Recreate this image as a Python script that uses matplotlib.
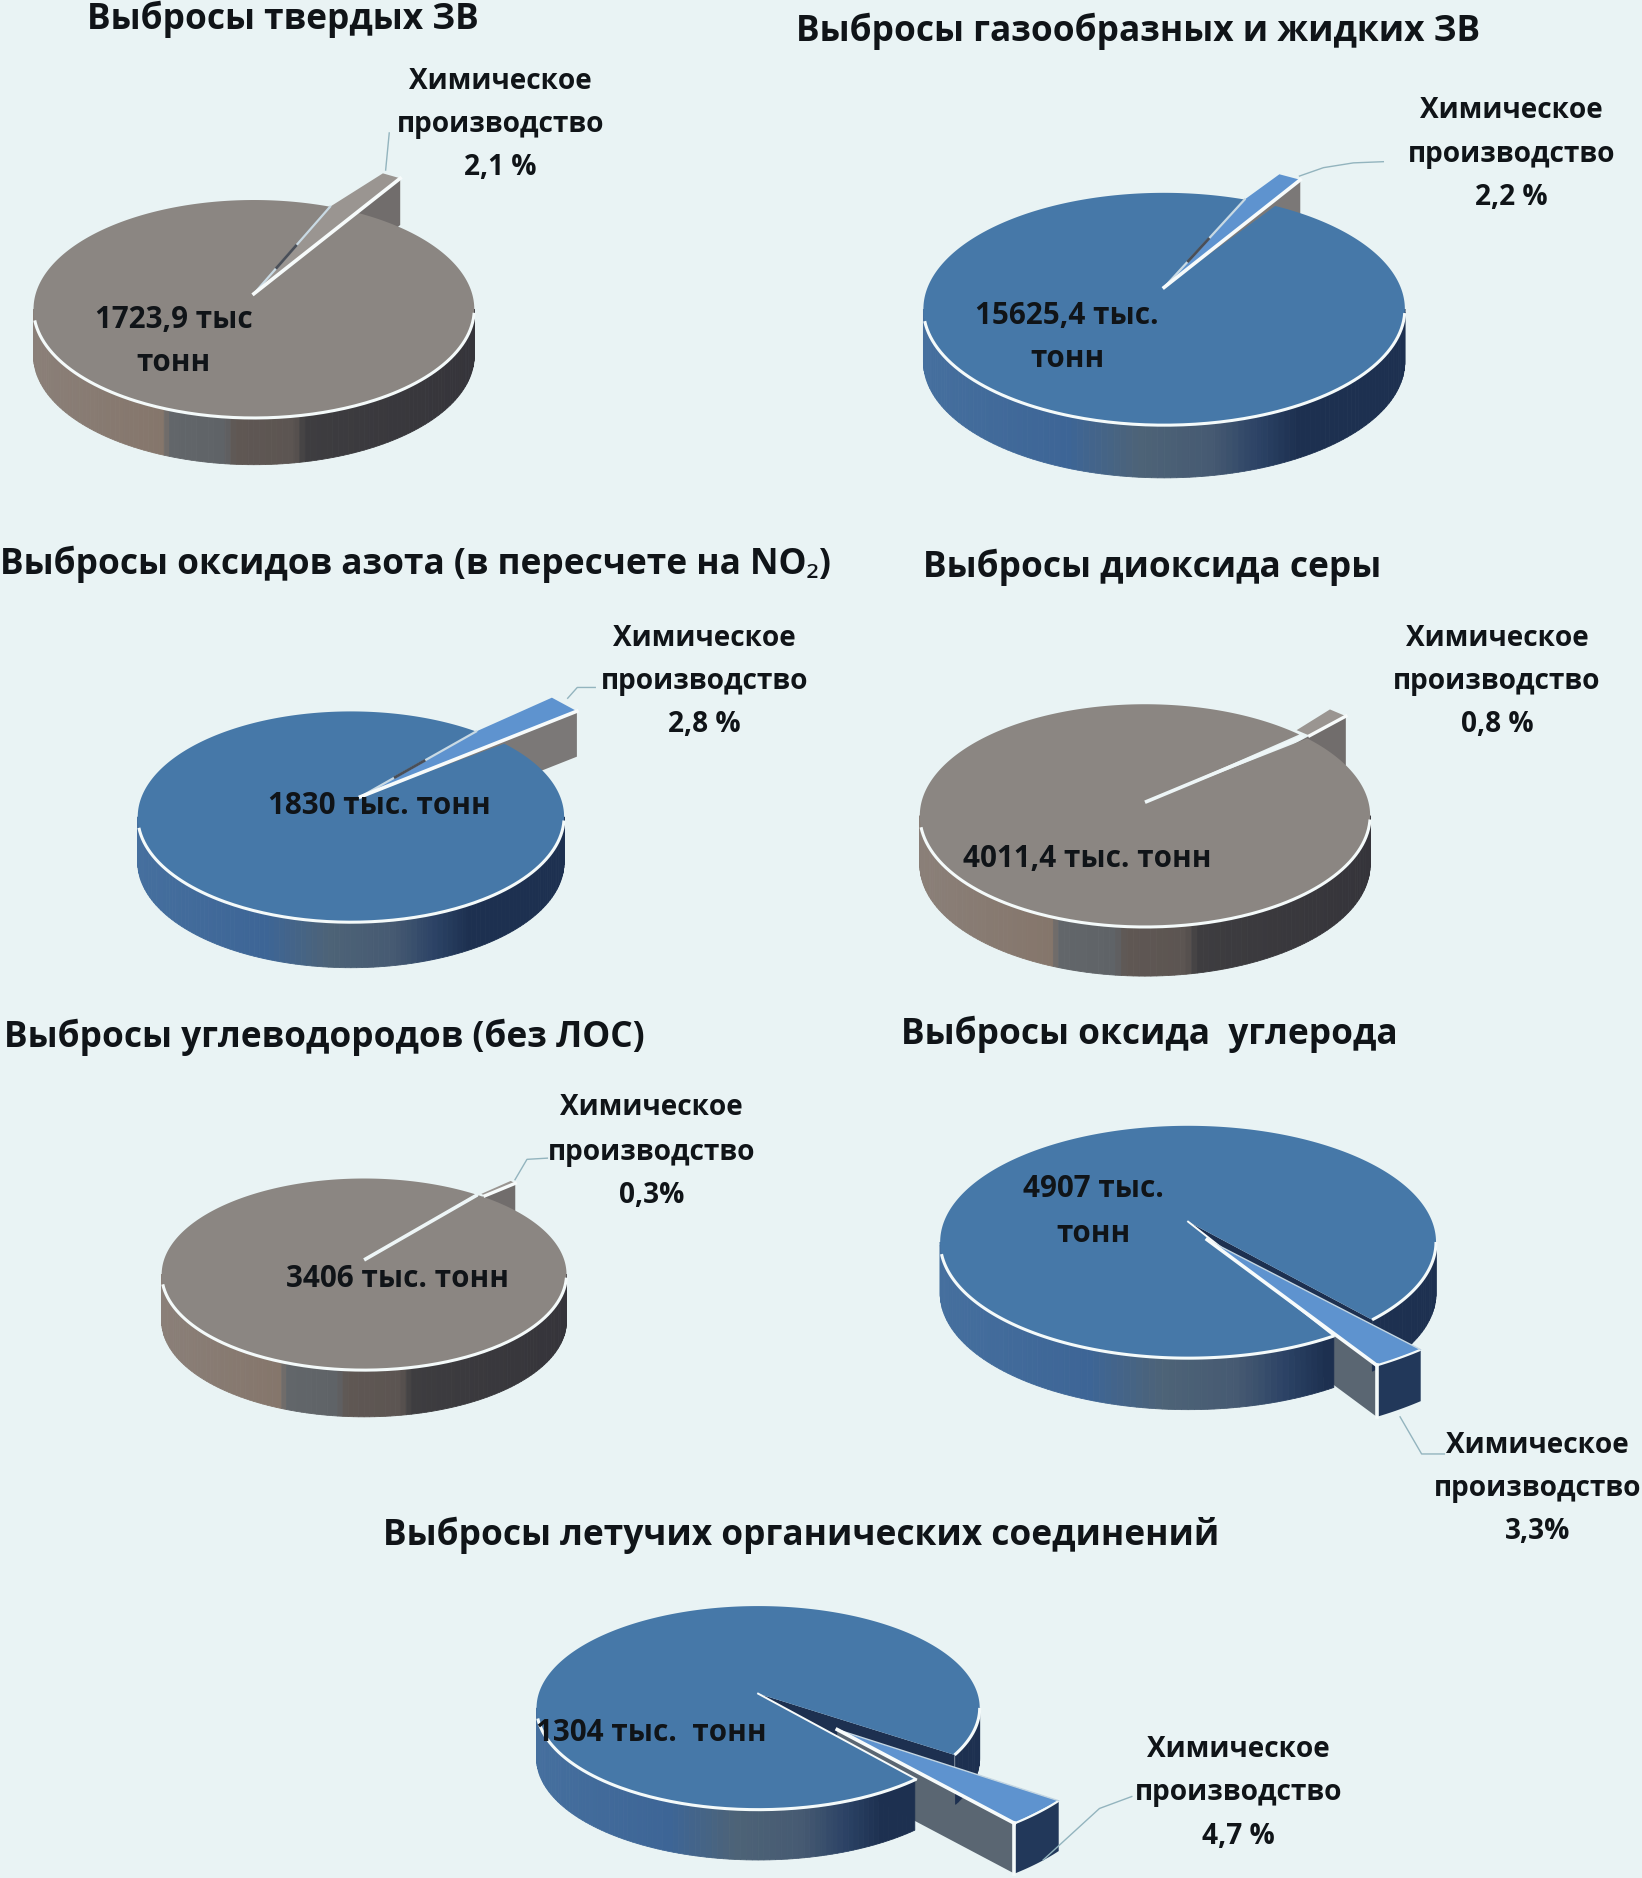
import numpy as np
import matplotlib
matplotlib.use("Agg")
import matplotlib.pyplot as plt
from matplotlib.colors import LinearSegmentedColormap
from matplotlib.lines import Line2D

W, H = 1642, 1878
S = W / 1371.0

# ---- data ----
titles = ["Выбросы твердых ЗВ", "Выбросы газообразных и жидких ЗВ",
          "Выбросы оксидов азота (в пересчете на NO₂)", "Выбросы диоксида серы",
          "Выбросы углеводородов (без ЛОС)", "Выбросы оксида  углерода",
          "Выбросы летучих органических соединений"]
shares = [2.1, 2.2, 2.8, 0.8, 0.3, 3.3, 4.7]
share_labels = ["2,1 %", "2,2 %", "2,8 %", "0,8 %", "0,3%", "3,3%", "4,7 %"]
total_labels = [["1723,9 тыс", "тонн"], ["15625,4 тыс.", "тонн"], ["1830 тыс. тонн"],
                ["4011,4 тыс. тонн"], ["3406 тыс. тонн"], ["4907 тыс.", "тонн"],
                ["1304 тыс.  тонн"]]
category_lines = ["Химическое", "производство"]

# ---- layout (in 1371-wide reference units) ----
title_pos = [(73, 16, 'left'), (665, 26, 'left'), (0, 471, 'left'), (771, 474, 'left'),
             (3, 866, 'left'), (752, 864, 'left'), (320, 1282, 'left')]
label_pos = [(418, 68, 104, 140), (1262, 92, 129, 165), (588, 533, 569, 605),
             (1250, 533, 569, 605), (544, 925, 962, 998), (1284, 1207, 1243, 1279),
             (1034, 1461, 1497, 1533)]
inner_pos = [(145, 267, 303), (891, 264, 300), (317, 673), (908, 717), (332, 1068),
             (913, 993, 1030), (544, 1447)]
# cx, cy, rx, ry, depth
discs = [(212, 258, 184, 91, 39), (972, 258, 201, 97, 44), (293, 682, 178, 88, 38),
         (956, 681, 188, 93, 41), (304, 1064, 169, 80, 39), (992, 1037, 207, 97, 43),
         (633, 1426, 185, 85, 42)]
# notch mid angle, apex dx, apex dy, slice mid, slice radius, slice narrowing,
# shift x, shift y, start of the visible part of the slice
slices = [(66, 0.0, 0.14, 60, 1.25, 0.55, 0, 0, 0),
          (66.5, 0.0, 0.186, 61.2, 1.085, 0.66, 0, 0, 0),
          (49, 0.045, 0.19, 42.5, 1.30, 0.76, 0, 0, 0),
          (45.3, 0.0, 0.12, 49.5, 1.32, 1.4, 0, -0.20, 0.82),
          (56, 0.0, 0.15, 42, 0.99, 1.8, 0, 0.15, 0.8),
          (-48, 0.0, 0.175, -52.7, 1.28, 0.84, 0.077, -0.155, 0),
          (-36, 0.0, 0.14, -42, 1.22, 0.83, 0.357, -0.353, 0)]
kinds = ['brown', 'blue', 'blue', 'brown', 'brown', 'blue', 'blue']
leaders = [[(325, 111), (322, 142)],
           [(1085, 147), (1105, 140), (1130, 136), (1155, 135)],
           [(474, 583), (482, 574), (497, 574)],
           [],
           [(430, 985), (440, 968), (457, 967)],
           [(1169, 1183), (1187, 1214), (1206, 1214)],
           [(871, 1553), (918, 1510), (945, 1500)]]

BG = '#E9F3F4'
TOP = {'brown': '#8B8682', 'blue': '#4678A8'}
SLICE_TOP = {'brown': '#9A9591', 'blue': '#5E93CF'}
WALL_UP = {'brown': '#716D6C', 'blue': '#7B7877'}
WALL_DOWN = '#5A6672'
NOTCH = {'brown': '#55524F', 'blue': '#1D3050'}
CMAP = {
    'brown': LinearSegmentedColormap.from_list('b', [
        (0, '#8A7F78'), (0.29, '#85766B'), (0.31, '#62666A'), (0.43, '#5F6367'),
        (0.46, '#5F5753'), (0.59, '#5C5552'), (0.62, '#3E3D40'), (1, '#35343A')]),
    'blue': LinearSegmentedColormap.from_list('l', [
        (0, '#456F9E'), (0.3, '#3D6596'), (0.45, '#4D6377'), (0.6, '#465A72'),
        (0.7, '#2B4265'), (0.78, '#1D3050'), (1, '#1D3050')]),
}
INK = '#101418'

plt.rcParams['font.family'] = ['Open Sans', 'Noto Sans', 'DejaVu Sans']
fig = plt.figure(figsize=(W / 100, H / 100), dpi=100, facecolor=BG)


def fx(x):
    return x * S / W


def fy(y):
    return 1 - y * S / H


def ring(a0, a1, r=1.0, n=None):
    n = n or max(2, int(abs(a1 - a0)) + 2)
    t = np.radians(np.linspace(a0, a1, n))
    return r * np.cos(t), r * np.sin(t)


def unit(a):
    return np.array([np.cos(np.radians(a)), np.sin(np.radians(a))])


for i, share in enumerate(shares):
    cx, cy, rx, ry, depth = discs[i]
    nmid, adx, ady, smid, srad, narrow, shx, shy, vis = slices[i]
    kind = kinds[i]
    k = 2.0
    ax = fig.add_axes([fx(cx - k * rx), fy(cy + k * ry), fx(2 * k * rx), 2 * k * ry * S / H])
    ax.set_xlim(-k, k)
    ax.set_ylim(-k, k)
    ax.axis('off')
    d = depth / ry
    lower = smid < 0

    span = share * 3.6
    lo, hi = nmid - span / 2, nmid + span / 2
    apex = np.array([adx, ady])
    slo, shi = smid - span * narrow / 2, smid + span * narrow / 2
    sa = apex + np.array([shx, shy])
    tlo = sa + srad * unit(slo)
    thi = sa + srad * unit(shi)
    rhi = unit(hi)

    # far wall of the notch (only seen when the notch opens towards the viewer)
    if lower:
        ax.fill([apex[0], rhi[0], rhi[0], apex[0]], [apex[1], rhi[1], rhi[1] - d, apex[1] - d],
                color=NOTCH[kind], lw=0, zorder=1)
    # radial wall of the pulled-out slice
    ax.fill([sa[0], tlo[0], tlo[0], sa[0]], [sa[1], tlo[1], tlo[1] - d, sa[1] - d],
            color=WALL_DOWN if lower else WALL_UP[kind], lw=0, zorder=2)

    # cylinder side of the main body
    edges = np.arange(180, 361, 1.5)
    for a0, a1 in zip(edges[:-1], edges[1:]):
        am = (a0 + a1) / 2 - 360
        if lo < 0 and lo <= am <= hi:
            continue
        p0, p1 = unit(a0), unit(a1)
        col = CMAP[kind]((np.cos(np.radians(am)) + 1) / 2)
        ax.fill([p0[0], p1[0], p1[0], p0[0]], [p0[1], p1[1], p1[1] - d, p0[1] - d],
                color=col, lw=0.6, zorder=3)

    # top of the main body, with the notch cut out
    xs, ys = ring(hi, lo + 360, 1.0, 360)
    ax.fill(np.r_[xs, apex[0]], np.r_[ys, apex[1]], color=TOP[kind], lw=0, zorder=4)

    # narrow notches show as a pale line from the apex to the rim
    if vis > 0:
        rm = unit(nmid)
        ax.plot([apex[0], rm[0]], [apex[1], rm[1]], color='#EEF6F7', lw=2.6, zorder=5,
                solid_capstyle='butt')

    # white highlight along the near rim
    arcs = [(186, 360 + lo), (360 + hi, 360)] if lower else [(186, 358)]
    for a0, a1 in arcs:
        xs, ys = ring(a0, a1)
        ax.plot(xs, ys, color='#F4FAFA', lw=2.2, zorder=5, solid_capstyle='butt')
    if lower:
        rl = unit(lo)
        ax.plot([apex[0], rl[0]], [apex[1], rl[1]], color='#F7FBFB', lw=1.4, zorder=5)

    # outer face of a slice that points towards the viewer
    if lower:
        xs, ys = ring(slo, shi, srad)
        xs, ys = xs + sa[0], ys + sa[1]
        ax.fill(np.r_[xs, xs[::-1]], np.r_[ys, ys[::-1] - d], color='#22385A', lw=0, zorder=6)
        ax.plot([tlo[0], tlo[0]], [tlo[1], tlo[1] - d], color='#F4FAFA', lw=2.6, zorder=8)
        ax.plot(xs, ys, color='#F4FAFA', lw=1.6, zorder=8)

    # top of the slice
    if vis > 0:
        s0 = sa + vis * (tlo - sa)
        s1 = sa + vis * (thi - sa)
        ax.fill([s0[0], tlo[0], thi[0], s1[0]], [s0[1], tlo[1], thi[1], s1[1]],
                color=SLICE_TOP[kind], lw=0, zorder=7)
        ax.plot([s0[0], tlo[0]], [s0[1], tlo[1]], color='#F7FBFB', lw=2.4, zorder=8)
    else:
        if lower:
            ax.fill([sa[0], tlo[0], thi[0]], [sa[1], tlo[1], thi[1]],
                    color=SLICE_TOP[kind], lw=0, zorder=7)
            ax.plot([sa[0], thi[0]], [sa[1], thi[1]], color='#C4D6E2', lw=1.0, zorder=8)
        else:
            ax.fill([sa[0], rhi[0], thi[0], tlo[0]], [sa[1], rhi[1], thi[1], tlo[1]],
                    color=SLICE_TOP[kind], lw=0, zorder=7)
            ax.plot([sa[0], rhi[0]], [sa[1], rhi[1]], color='#C9DAE4', lw=1.6, zorder=8)
            m0, m1 = sa + 0.3 * (rhi - sa), sa + 0.55 * (rhi - sa)
            ax.plot([m0[0], m1[0]], [m0[1], m1[1]], color='#4A4F58', lw=2.0, zorder=8)
        ax.plot([sa[0], tlo[0]], [sa[1], tlo[1]], color='#F7FBFB', lw=2.6, zorder=8)

    # leader line
    if leaders[i]:
        pts = leaders[i]
        fig.add_artist(Line2D([fx(p[0]) for p in pts], [fy(p[1]) for p in pts],
                              color='#93B4BE', lw=1.0, transform=fig.transFigure))

    # texts
    tx, ty, ha = title_pos[i]
    fig.text(fx(tx), fy(ty), titles[i], ha=ha, va='center', fontsize=25.4, fontweight='bold',
             color=INK)
    lx, y1, y2, y3 = label_pos[i]
    for txt, yy in zip(category_lines + [share_labels[i]], (y1, y2, y3)):
        fig.text(fx(lx), fy(yy), txt, ha='center', va='center', fontsize=20.2,
                 fontweight='bold', color=INK)
    ipos = inner_pos[i]
    for txt, yy in zip(total_labels[i], ipos[1:]):
        fig.text(fx(ipos[0]), fy(yy), txt, ha='center', va='center', fontsize=21.3,
                 fontweight='bold', color=INK)

fig.savefig('out.png', dpi=100, facecolor=BG)
